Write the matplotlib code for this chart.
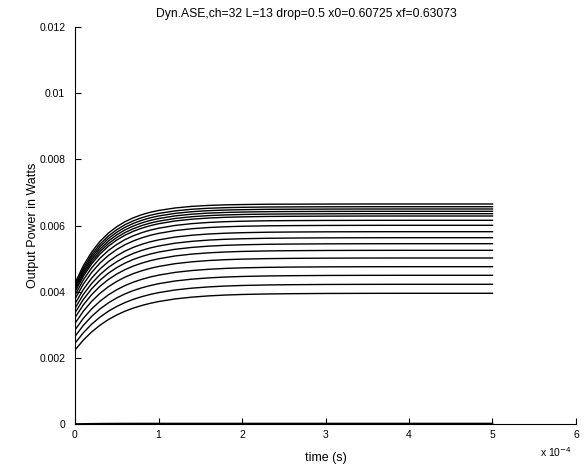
import numpy as np
import matplotlib
matplotlib.use("Agg")
import matplotlib.pyplot as plt
from matplotlib.ticker import FuncFormatter

plt.rcParams['font.family'] = ['Liberation Sans', 'DejaVu Sans']

# time samples (units of 1e-4 s)
time_e4 = [0, 0.1, 0.2, 0.3, 0.4, 0.5, 0.6, 0.7, 0.8, 0.9, 1.0, 1.2, 1.4,
           1.6, 1.8, 2.0, 2.3, 2.6, 3.0, 3.5, 4.0, 5.0]

rise_top = [0, 0.221, 0.393, 0.528, 0.632, 0.713, 0.777, 0.826, 0.865, 0.895,
            0.918, 0.950, 0.970, 0.982, 0.989, 0.993, 0.997, 0.998, 0.999,
            1.0, 1.0, 1.0]
rise_bottom = [0, 0.175, 0.319, 0.438, 0.537, 0.618, 0.685, 0.740, 0.785,
               0.823, 0.854, 0.901, 0.932, 0.954, 0.969, 0.979, 0.988, 0.993,
               0.997, 0.999, 1.0, 1.0]

# starting and final output power of surviving channels (bottom to top), W
start_power = [0.002237, 0.002442, 0.002648, 0.002844, 0.003041, 0.003216,
               0.003364, 0.003500, 0.003636, 0.003781, 0.003896, 0.003993,
               0.004044, 0.004096, 0.004147, 0.004199, 0.004259]
final_power = [0.003951, 0.004223, 0.004495, 0.004755, 0.005018, 0.005250,
               0.005450, 0.005631, 0.005813, 0.006006, 0.006157, 0.006287,
               0.006357, 0.006429, 0.006499, 0.006568, 0.006650]

# dropped channels (near zero)
dropped_power = [0.0, 0.000004, 0.000007, 0.00001, 0.000012, 0.000013,
                 0.000014, 0.000015, 0.000015, 0.000015, 0.000015, 0.000015,
                 0.000015, 0.000015, 0.000015, 0.000015, 0.000015, 0.000015,
                 0.000015, 0.000015, 0.000015, 0.000015]

yticks = [0, 0.002, 0.004, 0.006, 0.008, 0.01, 0.012]
ytick_labels = ["0", "0.002", "0.004", "0.006", "0.008", "0.01", "0.012"]
xticks_e4 = [0, 1, 2, 3, 4, 5, 6]

title = "Dyn.ASE,ch=32 L=13 drop=0.5 x0=0.60725 xf=0.63073"

fig = plt.figure(figsize=(5.86, 4.66), dpi=100)
ax = fig.add_axes([75/586, 1-424/466, (576-75)/586, (424-27)/466])

t = np.array(time_e4) * 1e-4
rt = np.array(rise_top)
rb = np.array(rise_bottom)
n = len(start_power)
for i in range(n):
    w = i / (n - 1)
    prof = rb * (1 - w) + rt * w
    y = start_power[i] + (final_power[i] - start_power[i]) * prof
    ax.plot(t, y, color='black', lw=1.0)
ax.plot(t, dropped_power, color='black', lw=1.2)

ax.set_xlim(0, 6e-4)
ax.set_ylim(0, 0.012)
ax.set_xticks(np.array(xticks_e4) * 1e-4)
ax.xaxis.set_major_formatter(FuncFormatter(lambda v, p: "%g" % round(v * 1e4, 6)))
ax.set_yticks(yticks)
ax.set_yticklabels(ytick_labels)
ax.spines['top'].set_visible(False)
ax.spines['right'].set_visible(False)
ax.tick_params(direction='in', length=4, width=0.8, labelsize=7.5)
ax.tick_params(axis='y', pad=7)
ax.tick_params(axis='x', pad=4)

ax.set_xlabel("time (s)", fontsize=9, labelpad=9)
fig.text(33/586, 1-225/466, "Output Power in Watts", fontsize=9,
         rotation=90, ha='center', va='center')
fig.text(306/586, 1-14/466, title, fontsize=8.7, ha='center', va='center')
fig.text(540/586, 1-452/466, r"x 10$^{-4}$", fontsize=7.5, ha='left', va='center')

fig.savefig("out.png", dpi=100)
